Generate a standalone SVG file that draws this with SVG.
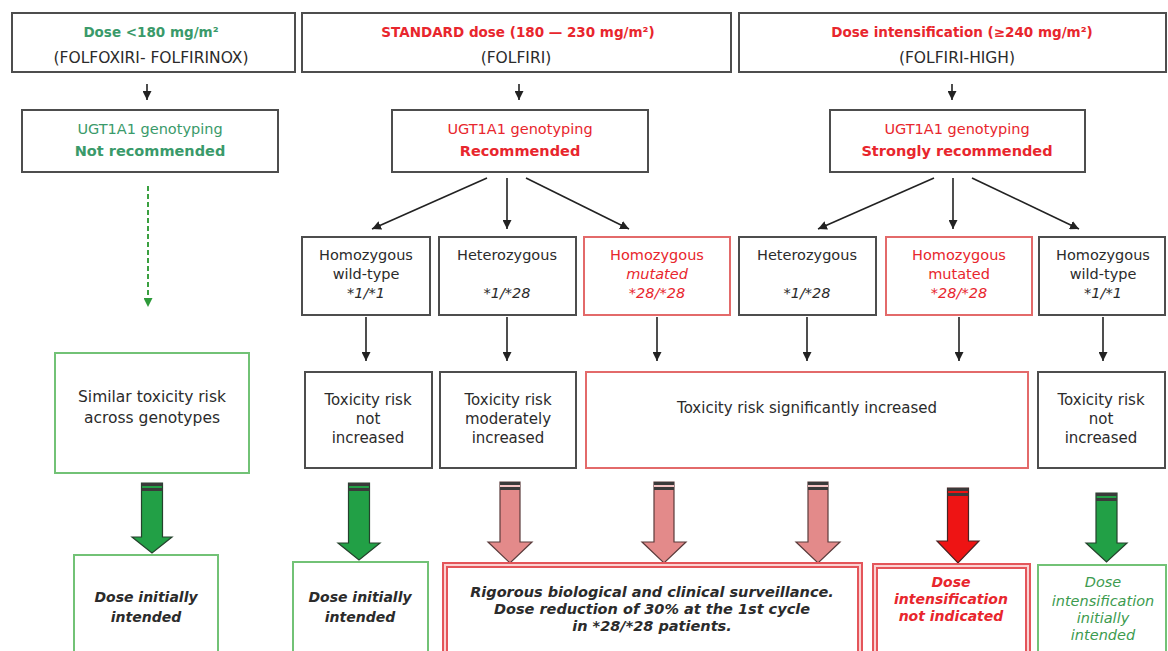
<svg xmlns="http://www.w3.org/2000/svg" width="1168" height="651" viewBox="0 0 1168 651">
<defs>
<style>
text{font-family:"DejaVu Sans","Liberation Sans",sans-serif;text-anchor:middle;fill:#2b2b2b;font-size:14.5px}
.box{fill:#fff;stroke:#4d4d4d;stroke-width:2}
.rbox{fill:#fff;stroke:#e36a6a;stroke-width:2}
.gbox{fill:#fff;stroke:#72c276;stroke-width:2}
.dbl{fill:#fff;stroke:#e4555a;stroke-width:6}
.dblin{fill:none;stroke:#fbd3d3;stroke-width:2}
.top1{font-size:13.5px;font-weight:bold}
.top2{font-size:15.5px}
.grn{fill:#3a9a6a}
.red{fill:#e8262d}
.b{font-weight:bold}
.i{font-style:italic}
.tx{font-size:15px}
.bi{font-weight:bold;font-style:italic;font-size:14px}
.gi{font-style:italic;font-size:14.5px;fill:#3d9b4f}
.con{stroke:#222;stroke-width:1.6;fill:none;marker-end:url(#ah)}
.dash{stroke:#3aa040;stroke-width:2;stroke-dasharray:5 3;fill:none;marker-end:url(#ahg)}
.ga{fill:#22a046;stroke:#24422c;stroke-width:1.2}
.pa{fill:#e38a8a;stroke:#5a3b3b;stroke-width:1.2}
.ra{fill:#ee1414;stroke:#4a2222;stroke-width:1.2}
.band{fill:#3a3a3a}
.pband{fill:#f6c4c4}
</style>
<marker id="ah" markerUnits="userSpaceOnUse" markerWidth="9" markerHeight="9" refX="9" refY="4.5" orient="auto"><path d="M0,0 L9,4.5 L0,9 Z" fill="#222"/></marker>
<marker id="ahg" markerUnits="userSpaceOnUse" markerWidth="9" markerHeight="9" refX="8" refY="4.5" orient="auto"><path d="M0,0 L9,4.5 L0,9 Z" fill="#2e9a3a"/></marker>
</defs>
<rect width="1168" height="651" fill="#fff"/>

<g id="connectors">
<line class="con" x1="147" y1="84" x2="147" y2="100"/>
<line class="con" x1="519" y1="84" x2="519" y2="100"/>
<line class="con" x1="952" y1="84" x2="952" y2="100"/>
<line class="dash" x1="148" y1="186" x2="148" y2="306"/>
<line class="con" x1="487" y1="178" x2="372" y2="229"/>
<line class="con" x1="507" y1="178" x2="507" y2="229"/>
<line class="con" x1="526" y1="178" x2="629" y2="229"/>
<line class="con" x1="934" y1="178" x2="818" y2="229"/>
<line class="con" x1="953" y1="178" x2="953" y2="229"/>
<line class="con" x1="972" y1="178" x2="1079" y2="229"/>
<line class="con" x1="366" y1="317" x2="366" y2="361"/>
<line class="con" x1="507" y1="317" x2="507" y2="361"/>
<line class="con" x1="657" y1="317" x2="657" y2="361"/>
<line class="con" x1="807" y1="317" x2="807" y2="361"/>
<line class="con" x1="959" y1="317" x2="959" y2="361"/>
<line class="con" x1="1103" y1="317" x2="1103" y2="361"/>
</g>

<g id="block-arrows">
<path class="ga" d="M141.5,483 H162.5 V537 H172 L152,553 L132,537 H141.5 Z"/>
<rect class="band" x="141.5" y="483" width="21" height="3"/><rect class="band" x="141.5" y="488" width="21" height="3"/>
<path class="ga" d="M348.5,483 H369.5 V543 H380 L359,560 L338,543 H348.5 Z"/>
<rect class="band" x="348.5" y="483" width="21" height="3"/><rect class="band" x="348.5" y="488" width="21" height="3"/>
<path class="pa" d="M500,482 H520 V542 H532 L510,563 L488,542 H500 Z"/>
<rect class="band" x="500" y="482" width="20" height="3"/><rect class="pband" x="500" y="485" width="20" height="2"/><rect class="band" x="500" y="487" width="20" height="3"/>
<path class="pa" d="M654,482 H674 V542 H686 L664,563 L642,542 H654 Z"/>
<rect class="band" x="654" y="482" width="20" height="3"/><rect class="pband" x="654" y="485" width="20" height="2"/><rect class="band" x="654" y="487" width="20" height="3"/>
<path class="pa" d="M808,482 H828 V542 H840 L818,563 L796,542 H808 Z"/>
<rect class="band" x="808" y="482" width="20" height="3"/><rect class="pband" x="808" y="485" width="20" height="2"/><rect class="band" x="808" y="487" width="20" height="3"/>
<path class="ra" d="M947.5,488 H968.5 V541 H979 L958,563 L937,541 H947.5 Z"/>
<rect class="band" x="947.5" y="488" width="21" height="3"/><rect class="band" x="947.5" y="493" width="21" height="3"/>
<path class="ga" d="M1096,493 H1117 V543 H1127 L1106.5,562 L1086,543 H1096 Z"/>
<rect class="band" x="1096" y="493" width="21" height="3"/><rect class="band" x="1096" y="498" width="21" height="3"/>
</g>

<g id="n-top1"><rect class="box" x="12" y="13" width="283" height="59"/>
<text x="151" y="37" class="top1 grn">Dose &lt;180 mg/m²</text>
<text x="151" y="63" class="top2">(FOLFOXIRI- FOLFIRINOX)</text></g>
<g id="n-top2"><rect class="box" x="302" y="13" width="429" height="59"/>
<text x="518" y="37" class="top1 red">STANDARD dose (180 — 230 mg/m²)</text>
<text x="516" y="63" class="top2">(FOLFIRI)</text></g>
<g id="n-top3"><rect class="box" x="739" y="13" width="427" height="59"/>
<text x="962" y="37" class="top1 red">Dose intensification (≥240 mg/m²)</text>
<text x="957" y="63" class="top2">(FOLFIRI-HIGH)</text></g>

<g id="n-geno1"><rect class="box" x="22" y="110" width="256" height="62"/>
<text x="150" y="134" class="grn">UGT1A1 genotyping</text>
<text x="150" y="156" class="grn b">Not recommended</text></g>
<g id="n-geno2"><rect class="box" x="392" y="110" width="256" height="62"/>
<text x="520" y="134" class="red">UGT1A1 genotyping</text>
<text x="520" y="156" class="red b">Recommended</text></g>
<g id="n-geno3"><rect class="box" x="830" y="110" width="255" height="62"/>
<text x="957" y="134" class="red">UGT1A1 genotyping</text>
<text x="957" y="156" class="red b">Strongly recommended</text></g>

<g id="n-wt1"><rect class="box" x="302" y="237" width="128" height="78"/>
<text x="366" y="260">Homozygous</text><text x="366" y="279">wild-type</text><text x="366" y="298" class="i">*1/*1</text></g>
<g id="n-het1"><rect class="box" x="439" y="237" width="137" height="78"/>
<text x="507" y="260">Heterozygous</text><text x="507" y="298" class="i">*1/*28</text></g>
<g id="n-mut1"><rect class="rbox" x="584" y="237" width="146" height="78"/>
<text x="657" y="260" class="red">Homozygous</text><text x="657" y="279" class="red i">mutated</text><text x="657" y="298" class="red i">*28/*28</text></g>
<g id="n-het2"><rect class="box" x="739" y="237" width="137" height="78"/>
<text x="807" y="260">Heterozygous</text><text x="807" y="298" class="i">*1/*28</text></g>
<g id="n-mut2"><rect class="rbox" x="886" y="237" width="146" height="78"/>
<text x="959" y="260" class="red">Homozygous</text><text x="959" y="279" class="red">mutated</text><text x="959" y="298" class="red i">*28/*28</text></g>
<g id="n-wt2"><rect class="box" x="1039" y="237" width="126" height="78"/>
<text x="1103" y="260">Homozygous</text><text x="1103" y="279">wild-type</text><text x="1103" y="298" class="i">*1/*1</text></g>

<g id="n-similar"><rect class="gbox" x="55" y="353" width="194" height="120"/>
<text x="152" y="402" style="font-size:15.5px">Similar toxicity risk</text><text x="152" y="423" style="font-size:15.5px">across genotypes</text></g>
<g id="n-tox1"><rect class="box" x="305" y="372" width="127" height="96"/>
<text x="368" y="405" class="tx">Toxicity risk</text><text x="368" y="424" class="tx">not</text><text x="368" y="443" class="tx">increased</text></g>
<g id="n-tox2"><rect class="box" x="440" y="372" width="136" height="96"/>
<text x="508" y="405" class="tx">Toxicity risk</text><text x="508" y="424" class="tx">moderately</text><text x="508" y="443" class="tx">increased</text></g>
<g id="n-tox3"><rect class="rbox" x="586" y="372" width="442" height="96"/>
<text x="807" y="413" class="tx">Toxicity risk significantly increased</text></g>
<g id="n-tox4"><rect class="box" x="1038" y="372" width="127" height="96"/>
<text x="1101" y="405" class="tx">Toxicity risk</text><text x="1101" y="424" class="tx">not</text><text x="1101" y="443" class="tx">increased</text></g>

<g id="n-dose1"><rect class="gbox" x="74" y="555" width="144" height="100"/>
<text x="146" y="602" class="bi">Dose initially</text><text x="146" y="622" class="bi">intended</text></g>
<g id="n-dose2"><rect class="gbox" x="293" y="562" width="135" height="100"/>
<text x="360" y="602" class="bi">Dose initially</text><text x="360" y="622" class="bi">intended</text></g>
<g id="n-rig"><rect class="dbl" x="445" y="565" width="415" height="100"/><rect class="dblin" x="445" y="565" width="415" height="100"/>
<text x="652" y="597" class="bi" style="font-size:14.5px">Rigorous biological and clinical surveillance.</text>
<text x="652" y="614" class="bi" style="font-size:14.5px">Dose reduction of 30% at the 1st cycle</text>
<text x="652" y="631" class="bi" style="font-size:14.5px">in *28/*28 patients.</text></g>
<g id="n-notind"><rect class="dbl" x="875" y="566" width="153" height="100"/><rect class="dblin" x="875" y="566" width="153" height="100"/>
<text x="951" y="587" class="bi red">Dose</text><text x="951" y="604" class="bi red">intensification</text><text x="951" y="621" class="bi red">not indicated</text></g>
<g id="n-initint"><rect class="gbox" x="1038" y="565" width="128" height="100"/>
<text x="1103" y="587" class="gi">Dose</text>
<text x="1103" y="606" class="gi">intensification</text>
<text x="1103" y="623" class="gi">initially</text>
<text x="1103" y="640" class="gi">intended</text></g>
</svg>
